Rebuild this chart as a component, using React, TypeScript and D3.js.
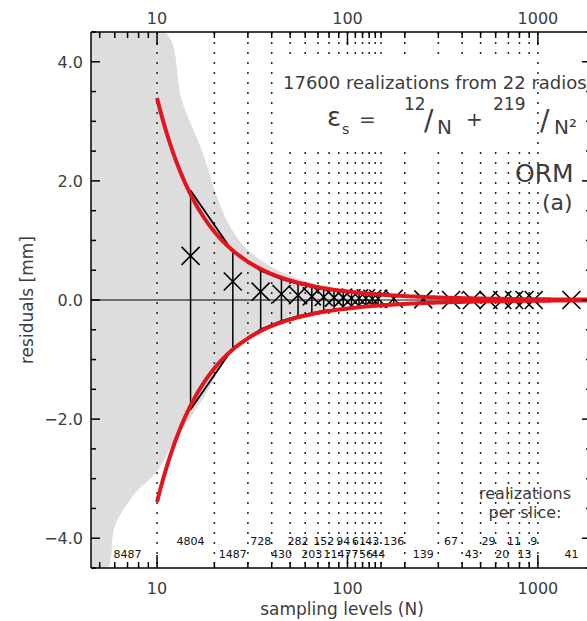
import React from "react";
import * as d3 from "d3";

// ---------- data ----------
const binEdges = [10, 20, 30, 40, 50, 60, 70, 80, 90, 100, 110, 120, 130, 140, 150, 200, 300, 400, 500, 600, 700, 800, 900, 1000];
const lowTicks = [5, 6, 7, 8, 9];
const majorTicks = [10, 100, 1000];
const majorLabels = ["10", "100", "1000"];
const sliceN = [15, 25, 35, 45, 55, 65, 75, 85, 95, 105, 115, 125, 135, 145, 175, 250, 350, 450, 550, 650, 750, 850, 950, 1500];
const sliceMean = [0.74, 0.31, 0.14, 0.1, 0.08, 0.06, 0.05, 0.04, 0.04, 0.03, 0.03, 0.03, 0.02, 0.02, 0.02, 0.01, 0.0, 0.0, 0.0, 0.0, 0.0, 0.0, 0.0, 0.0];
const sliceSigma = [1.84, 0.81, 0.49, 0.35, 0.27, 0.22, 0.18, 0.16, 0.14, 0.13, 0.12, 0.11, 0.1, 0.09, 0.08, 0.05, 0.035, 0.03, 0.025, 0.02, 0.018, 0.016, 0.015, 0.01];
const countLabels = [8487, 4804, 1487, 728, 430, 282, 203, 152, 114, 94, 77, 61, 56, 43, 44, 136, 139, 67, 43, 29, 20, 11, 13, 9, 41];
const countN = [7, 15, 25, 35, 45, 55, 65, 75, 85, 95, 105, 115, 125, 135, 145, 175, 250, 350, 450, 550, 650, 750, 850, 950, 1500];
const fitA = 12;
const fitB = 219;
const yMajor = [-4, -2, 0, 2, 4];
const yLabels = ["\u22124.0", "\u22122.0", "0.0", "2.0", "4.0"];
const yMinor = [-4.5, -3.5, -3, -2.5, -1.5, -1, -0.5, 0.5, 1, 1.5, 2.5, 3, 3.5, 4.5];
// envelope of the 17600 grey realizations
const grayUpperN = [4.5, 11, 13.5, 17.2, 21, 24.8, 30, 43, 70, 100, 150];
const grayUpperV = [4.5, 4.5, 3.35, 2.51, 1.67, 1.17, 0.84, 0.5, 0.25, 0.08, 0];
const grayLowerN = [150, 90, 60, 45, 32, 25, 18, 12, 10, 7.6, 6, 5.5, 4.5];
const grayLowerV = [0, -0.1, -0.25, -0.4, -0.55, -0.8, -1.59, -2.43, -2.88, -3.26, -3.8, -4.5, -4.5];

const W = 587;
const H = 621;
const L = 91, R = 591, T = 32, B = 568;

export default function App() {
  const x = d3.scaleLog().domain([4.5, 1900]).range([L, R]);
  const y = d3.scaleLinear().domain([-4.5, 4.5]).range([B, T]);

  const grayPts: [number, number][] = [
    ...grayUpperN.map((n, i) => [x(n), y(grayUpperV[i])] as [number, number]),
    ...grayLowerN.map((n, i) => [x(n), y(grayLowerV[i])] as [number, number]),
  ];
  const grayPath = d3.line().curve(d3.curveCatmullRomClosed)(grayPts) || "";

  const fitNs = d3.range(0, 201).map((i) => 10 * Math.pow(190, i / 200));
  const fitUp = d3.line<number>().x((n) => x(n)).y((n) => y(fitA / n + fitB / (n * n)))(fitNs) || "";
  const fitDn = d3.line<number>().x((n) => x(n)).y((n) => y(-(fitA / n + fitB / (n * n))))(fitNs) || "";

  const envUp = d3.line<number>().x((_, i) => x(sliceN[i])).y((s) => y(s))(sliceSigma) || "";
  const envDn = d3.line<number>().x((_, i) => x(sliceN[i])).y((s) => y(-s))(sliceSigma) || "";

  const font = "'DejaVu Sans', sans-serif";
  const txt = "#3c3c3c";

  return (
    <svg width={W} height={H} style={{ position: "absolute", left: 0, top: 0, background: "#fff" }} fontFamily={font}>
      <defs>
        <clipPath id="plot">
          <rect x={L} y={T} width={R - L} height={B - T} />
        </clipPath>
      </defs>
      <rect x={0} y={0} width={W} height={H} fill="#fff" />
      <g clipPath="url(#plot)">
        <path d={grayPath} fill="#dddddd" />
        {binEdges.filter((e) => e < 1000).map((e) => (
          <line key={e} x1={x(e)} x2={x(e)} y1={T} y2={B} stroke="#222" strokeWidth={1.5} strokeDasharray="2 8" />
        ))}
        <rect x={282} y={60} width={R - 282} height={88} fill="#fff" />
        <line x1={x(1000)} x2={x(1000)} y1={T} y2={B} stroke="#222" strokeWidth={1.5} strokeDasharray="2 8" />
        <line x1={L} x2={R} y1={y(0)} y2={y(0)} stroke="#000" strokeWidth={1.2} />
        {sliceN.map((n, i) => (
          <line key={n} x1={x(n)} x2={x(n)} y1={y(sliceSigma[i])} y2={y(-sliceSigma[i])} stroke="#000" strokeWidth={1.5} />
        ))}
        <path d={envUp} fill="none" stroke="#000" strokeWidth={1.8} />
        <path d={envDn} fill="none" stroke="#000" strokeWidth={1.8} />
        {sliceN.map((n, i) => {
          const cx = x(n), cy = y(sliceMean[i]), h = 9;
          return (
            <g key={n} stroke="#000" strokeWidth={1.6}>
              <line x1={cx - h} x2={cx + h} y1={cy - h} y2={cy + h} />
              <line x1={cx - h} x2={cx + h} y1={cy + h} y2={cy - h} />
            </g>
          );
        })}
        <path d={fitUp} fill="none" stroke="#e3141c" strokeWidth={4} />
        <path d={fitDn} fill="none" stroke="#e3141c" strokeWidth={4} />
      </g>

      {/* frame */}
      <g stroke="#000" strokeWidth={1.5} fill="none">
        <line x1={L} x2={R} y1={T} y2={T} />
        <line x1={L} x2={R} y1={B} y2={B} />
        <line x1={L} x2={L} y1={T} y2={B} />
        <line x1={R} x2={R} y1={T} y2={B} />
        {[...lowTicks, ...binEdges].map((e) => {
          const len = majorTicks.includes(e) ? 13 : 6;
          return (
            <g key={"t" + e}>
              <line x1={x(e)} x2={x(e)} y1={B} y2={B - len} />
              <line x1={x(e)} x2={x(e)} y1={T} y2={T + len} />
            </g>
          );
        })}
        {yMajor.map((v) => (
          <g key={"ym" + v}>
            <line x1={L} x2={L + 9} y1={y(v)} y2={y(v)} />
            <line x1={R} x2={R - 9} y1={y(v)} y2={y(v)} />
          </g>
        ))}
        {yMinor.map((v) => (
          <g key={"yn" + v}>
            <line x1={L} x2={L + 5} y1={y(v)} y2={y(v)} />
            <line x1={R} x2={R - 5} y1={y(v)} y2={y(v)} />
          </g>
        ))}
      </g>

      {/* tick labels */}
      <g fill={txt} fontSize={16}>
        {majorTicks.map((m, i) => (
          <g key={"ml" + m}>
            <text x={x(m)} y={24} textAnchor="middle">{majorLabels[i]}</text>
            <text x={x(m)} y={594} textAnchor="middle">{majorLabels[i]}</text>
          </g>
        ))}
        {yMajor.map((v, i) => (
          <text key={"yl" + v} x={83} y={y(v) + 6} textAnchor="end">{yLabels[i]}</text>
        ))}
      </g>

      {/* axis titles */}
      <text x={342} y={615} textAnchor="middle" fontSize={17} fill={txt}>sampling levels (N)</text>
      <text transform="translate(33,300) rotate(-90)" textAnchor="middle" fontSize={17} fill={txt}>residuals [mm]</text>

      {/* slice counts */}
      <g fontSize={11} fill="#111" textAnchor="middle">
        {countLabels.map((c, i) => (
          <text key={"c" + i} x={x(countN[i])} y={i % 2 === 0 ? 558 : 545}>{c}</text>
        ))}
      </g>
      <text x={525} y={499} textAnchor="middle" fontSize={16} fill={txt}>realizations</text>
      <text x={525} y={518} textAnchor="middle" fontSize={16} fill={txt}>per slice:</text>

      {/* annotations */}
      <text x={283} y={89} fontSize={18} fill={txt}>17600 realizations from 22 radios</text>
      <g fill={txt}>
        <text x={327} y={126} fontSize={26}>ε</text>
        <text x={342} y={134} fontSize={14}>s</text>
        <text x={359} y={126} fontSize={20}>=</text>
        <text x={404} y={110} fontSize={17}>12</text>
        <text x={424} y={130} fontSize={28}>/</text>
        <text x={437} y={134} fontSize={20}>N</text>
        <text x={466} y={126} fontSize={20}>+</text>
        <text x={493} y={110} fontSize={17}>219</text>
        <text x={540} y={130} fontSize={28}>/</text>
        <text x={554} y={134} fontSize={20}>N²</text>
      </g>
      <text x={515} y={182} fontSize={25} fill={txt}>ORM</text>
      <text x={542} y={210} fontSize={22} fill={txt}>(a)</text>
    </svg>
  );
}
